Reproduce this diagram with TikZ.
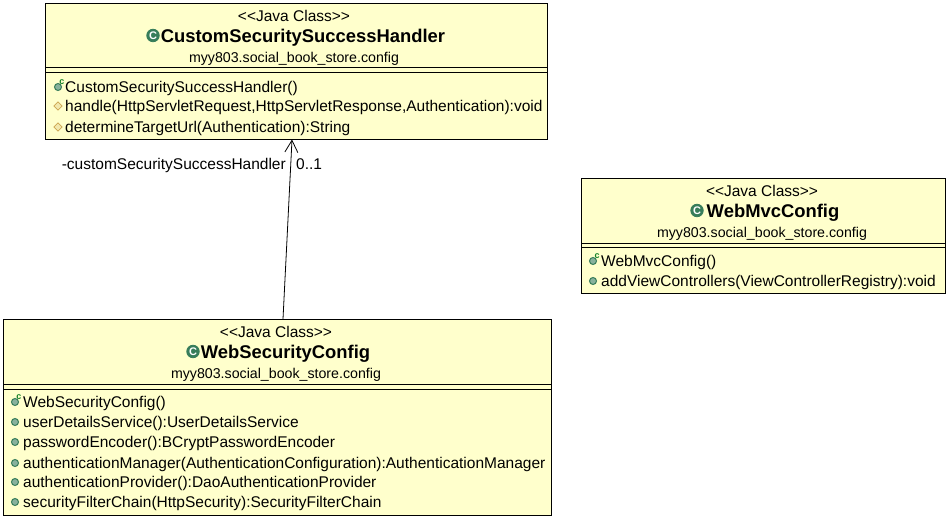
\documentclass[tikz,border=0pt]{standalone}
\usepackage{fontspec}
\setmainfont{Liberation Sans}
\usetikzlibrary{arrows.meta,shapes.geometric}
\definecolor{boxfill}{RGB}{255,255,204}
\definecolor{iconG}{RGB}{55,125,90}
\definecolor{iconD}{RGB}{205,165,80}
\definecolor{ctorC}{RGB}{20,130,40}
\tikzset{
  x=1pt,y=-1pt,
  classbox/.style={draw=black,fill=boxfill,line width=1pt,rectangle,inner sep=0pt,minimum width=#1,anchor=north west},
  sepline/.style={draw=black,line width=1pt},
  stereo/.style={font=\fontsize{15.5}{15.5}\selectfont,inner sep=0pt,anchor=center},
  title/.style={font=\fontsize{18.4}{18.4}\selectfont\bfseries,inner sep=0pt,anchor=center},
  pkg/.style={font=\fontsize{14.2}{14.2}\selectfont,inner sep=0pt,anchor=center},
  member/.style={font=\fontsize{15.5}{15.5}\selectfont,inner sep=0pt,anchor=west},
  lbl/.style={font=\fontsize{15.5}{15.5}\selectfont,inner sep=0pt,text=black},
  pubicon/.style={circle,draw=iconG,fill=iconG!60,line width=1pt,minimum size=7pt,inner sep=0pt},
  proticon/.style={diamond,aspect=1,draw=iconD,fill=boxfill!75!iconD,line width=0.8pt,minimum size=8.5pt,inner sep=0pt},
  classicon/.style={circle,draw=iconG,fill=iconG,line width=0.8pt,minimum size=12.5pt,inner sep=0pt,
     font=\fontsize{11}{11}\selectfont\bfseries,text=white},
  ctormark/.style={font=\fontsize{9}{9}\selectfont\bfseries,text=ctorC,inner sep=0pt},
  assoc/.style={draw=black,line width=0.8pt,-{Straight Barb[length=12pt,width=13pt,line width=0.8pt]},shorten >=0pt}
}
\newcommand{\ctoricon}[3]{\node[pubicon] (#3) at (#1,#2) {};\node[ctormark] (#3m) at (#1+4,#2-5) {c};}
\begin{document}
\begin{tikzpicture}
\useasboundingbox (0,0) rectangle (949,518);
\fill[white] (0,0) rectangle (949,518);
% CustomSecuritySuccessHandler
\node[classbox=502pt,minimum height=136pt] (A) at (45,3) {};
\draw[sepline] (45,68) -- (547,68) (45,73) -- (547,73);
\node[stereo] (Ast) at (294,16) {<{}<Java Class>{}>};
\node[title] (Ati) at (303,38) {CustomSecuritySuccessHandler};
\node[classicon] (Aic) at (153,35.5) {C};
\node[pkg] (Apk) at (294,58.5) {myy803.social\_book\_store.config};
\ctoricon{58}{87}{Ac}
\node[member] (Am1) at (65,88) {CustomSecuritySuccessHandler()};
\node[proticon] (Ad2) at (58,106) {};
\node[member] (Am2) at (65,107.5) {handle(HttpServletRequest,HttpServletResponse,Authentication):void};
\node[proticon] (Ad3) at (58,127) {};
\node[member] (Am3) at (65,128) {determineTargetUrl(Authentication):String};
% WebMvcConfig
\node[classbox=364pt,minimum height=115pt] (B) at (581,178) {};
\draw[sepline] (581,243.5) -- (945,243.5) (581,248) -- (945,248);
\node[stereo] (Bst) at (762,191) {<{}<Java Class>{}>};
\node[title] (Bti) at (773,213) {WebMvcConfig};
\node[classicon] (Bic) at (697,210.5) {C};
\node[pkg] (Bpk) at (762,233.5) {myy803.social\_book\_store.config};
\ctoricon{593}{261}{Bc}
\node[member] (Bm1) at (601,262) {WebMvcConfig()};
\node[pubicon] (Bd2) at (593,281) {};
\node[member] (Bm2) at (601,282.5) {addViewControllers(ViewControllerRegistry):void};
% WebSecurityConfig
\node[classbox=548pt,minimum height=196pt] (C) at (3,319) {};
\draw[sepline] (3,384) -- (551,384) (3,389) -- (551,389);
\node[stereo] (Cst) at (276,332) {<{}<Java Class>{}>};
\node[title] (Cti) at (285.5,354) {WebSecurityConfig};
\node[classicon] (Cic) at (193,351.5) {C};
\node[pkg] (Cpk) at (276,374.5) {myy803.social\_book\_store.config};
\ctoricon{15}{402}{Cc}
\node[member] (Cm1) at (23,403) {WebSecurityConfig()};
\node[pubicon] (Cd2) at (15,422) {};
\node[member] (Cm2) at (23,423.5) {userDetailsService():UserDetailsService};
\node[pubicon] (Cd3) at (15,442) {};
\node[member] (Cm3) at (23,443.5) {passwordEncoder():BCryptPasswordEncoder};
\node[pubicon] (Cd4) at (15,463) {};
\node[member] (Cm4) at (23,464) {authenticationManager(AuthenticationConfiguration):AuthenticationManager};
\node[pubicon] (Cd5) at (15,482) {};
\node[member] (Cm5) at (23,483.5) {authenticationProvider():DaoAuthenticationProvider};
\node[pubicon] (Cd6) at (15,502) {};
\node[member] (Cm6) at (23,503.5) {securityFilterChain(HttpSecurity):SecurityFilterChain};
% connector
\coordinate (from) at (283,319);
\coordinate (to) at (292,139.5);
\draw[assoc] (from) -- (to);
\node[lbl,anchor=east] (role) at (286,165) {-customSecuritySuccessHandler};
\node[lbl,anchor=west] (mult) at (296,164) {0..1};
\end{tikzpicture}
\end{document}
